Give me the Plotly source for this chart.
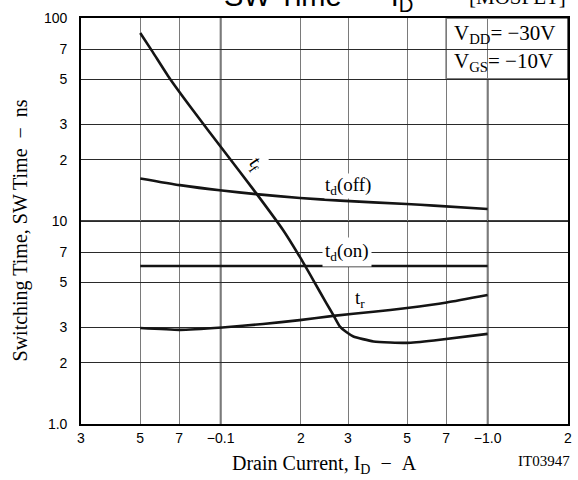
import math
import plotly.graph_objects as go

# ---- data ----
tf_x = [0.05, 0.0558, 0.0644, 0.0788, 0.1014, 0.136, 0.1713, 0.1978, 0.222, 0.2485, 0.2641, 0.2799, 0.2956, 0.3142, 0.3738, 0.4991, 0.6292, 1.0]
tf_y = [84.3, 67.7, 50.5, 35.1, 22.7, 13.68, 9.03, 6.67, 5.13, 3.95, 3.45, 3.02, 2.84, 2.70, 2.55, 2.51, 2.58, 2.78]

tdoff_x = [0.05, 0.0704, 0.1012, 0.1357, 0.1983, 0.2806, 0.4978, 0.6292, 1.0]
tdoff_y = [16.21, 15.02, 14.12, 13.57, 12.97, 12.60, 12.12, 11.91, 11.45]

tdon_x = [0.05, 1.0]
tdon_y = [6.0, 6.0]

tr_x = [0.05, 0.0704, 0.1014, 0.1441, 0.1978, 0.2641, 0.3738, 0.4991, 0.7028, 1.0]
tr_y = [2.97, 2.91, 2.99, 3.11, 3.25, 3.41, 3.57, 3.73, 3.97, 4.32]

x_tickvals = [0.03, 0.05, 0.07, 0.1, 0.2, 0.3, 0.5, 0.7, 1.0, 2.0]
x_ticktext = ["3", "5", "7", "\u22120.1", "2", "3", "5", "7", "\u22121.0", "2"]
y_tickvals = [1, 2, 3, 5, 7, 10, 20, 30, 50, 70, 100]
y_ticktext = ["1.0", "2", "3", "5", "7", "10", "2", "3", "5", "7", "100"]

X_MIN, X_MAX = 0.03, 2.0
Y_MIN, Y_MAX = 1.0, 100.0

SERIF = "Liberation Serif, Times New Roman, serif"
SANS = "Liberation Sans, Arial, sans-serif"
LINE_C = "#141414"

fig = go.Figure()
for xs, ys in [(tf_x, tf_y), (tdoff_x, tdoff_y), (tdon_x, tdon_y), (tr_x, tr_y)]:
    fig.add_trace(go.Scatter(x=xs, y=ys, mode="lines",
                             line=dict(color=LINE_C, width=2.6, shape="spline", smoothing=0.5),
                             hoverinfo="skip", showlegend=False))

def fx(v):
    return (math.log10(v) - math.log10(X_MIN)) / (math.log10(X_MAX) - math.log10(X_MIN))

def fy(v):
    return (math.log10(v) - math.log10(Y_MIN)) / (math.log10(Y_MAX) - math.log10(Y_MIN))

shapes = []
for v in [0.1, 1.0]:
    shapes.append(dict(type="line", xref="paper", yref="paper", x0=fx(v), x1=fx(v), y0=0, y1=1,
                       line=dict(color="black", width=1.6), layer="between"))
shapes.append(dict(type="line", xref="paper", yref="paper", x0=0, x1=1, y0=fy(10), y1=fy(10),
                   line=dict(color="black", width=1.4), layer="between"))
shapes.append(dict(type="rect", xref="paper", yref="paper", x0=fx(0.7), x1=1, y0=fy(50), y1=1,
                   fillcolor="white", line=dict(color="black", width=1.2), layer="between"))

W, H = 578, 480
ML, MR, MT, MB = 81, 6, 18, 56
PW, PH = W - ML - MR, H - MT - MB

def px(x):
    return (x - ML) / PW

def py(y):
    return (H - MB - y) / PH

ann = []
ann.append(dict(text="t<sub>f</sub>", x=px(258), y=py(164), textangle=55, font=dict(family=SERIF, size=20, color="black"),
                bgcolor="white", borderpad=0))
ann.append(dict(text="t<sub>d</sub>(off)", x=px(350), y=py(186), font=dict(family=SERIF, size=19, color="black"),
                bgcolor="white", borderpad=0))
ann.append(dict(text="t<sub>d</sub>(on)", x=px(349), y=py(252), font=dict(family=SERIF, size=19, color="black"),
                bgcolor="white", borderpad=2))
ann.append(dict(text="t<sub>r</sub>", x=px(362), y=py(299), font=dict(family=SERIF, size=19, color="black")))
ann.append(dict(text="V<sub>DD</sub>= \u221230V", x=px(455), y=py(34), xanchor="left",
                font=dict(family=SERIF, size=21, color="black")))
ann.append(dict(text="V<sub>GS</sub>= \u221210V", x=px(455), y=py(62), xanchor="left",
                font=dict(family=SERIF, size=21, color="black")))
ann.append(dict(text="SW Time\u00a0\u00a0\u2212\u00a0\u00a0I<sub>D</sub>", x=px(321), y=py(18), yanchor="bottom",
                font=dict(family=SANS, size=29, color="black")))
ann.append(dict(text="[MOSFET]", x=px(521), y=py(11), yanchor="bottom",
                font=dict(family=SERIF, size=21, color="black")))
ann.append(dict(text="Drain Current, I<sub>D</sub>\u00a0\u00a0\u2212\u00a0\u00a0A", x=px(326), y=py(464),
                font=dict(family=SERIF, size=20, color="black")))
ann.append(dict(text="IT03947", x=px(548), y=py(461), font=dict(family=SERIF, size=15, color="black")))
ann.append(dict(text="Switching Time, SW Time\u00a0\u00a0\u2212\u00a0\u00a0ns", x=px(20), y=py(230), textangle=-90,
                font=dict(family=SERIF, size=20, color="black")))
for a in ann:
    a.setdefault("xanchor", "center")
    a.setdefault("yanchor", "middle")
    a.update(xref="paper", yref="paper", showarrow=False)

fig.update_layout(
    width=W, height=H,
    margin=dict(l=ML, r=MR, t=MT, b=MB, pad=0),
    paper_bgcolor="white", plot_bgcolor="white",
    shapes=shapes, annotations=ann,
    xaxis=dict(type="log", range=[math.log10(X_MIN), math.log10(X_MAX)],
               tickmode="array", tickvals=x_tickvals, ticktext=x_ticktext,
               showgrid=True, gridcolor="#7a7a7a", gridwidth=1,
               showline=True, linecolor="black", linewidth=1.6, mirror=True,
               ticks="", ticklabelstandoff=0, zeroline=False,
               tickfont=dict(family=SANS, size=14, color="black")),
    yaxis=dict(type="log", range=[math.log10(Y_MIN), math.log10(Y_MAX)],
               tickmode="array", tickvals=y_tickvals, ticktext=y_ticktext,
               showgrid=True, gridcolor="#2a2a2a", gridwidth=1,
               showline=True, linecolor="black", linewidth=1.6, mirror=True,
               ticks="", ticklabelstandoff=9, zeroline=False,
               tickfont=dict(family=SANS, size=14, color="black")),
)

fig.write_html("out.html", config={"displayModeBar": False},
               post_script="document.body.style.margin='0';document.body.style.padding='0';document.body.style.overflow='hidden';")
